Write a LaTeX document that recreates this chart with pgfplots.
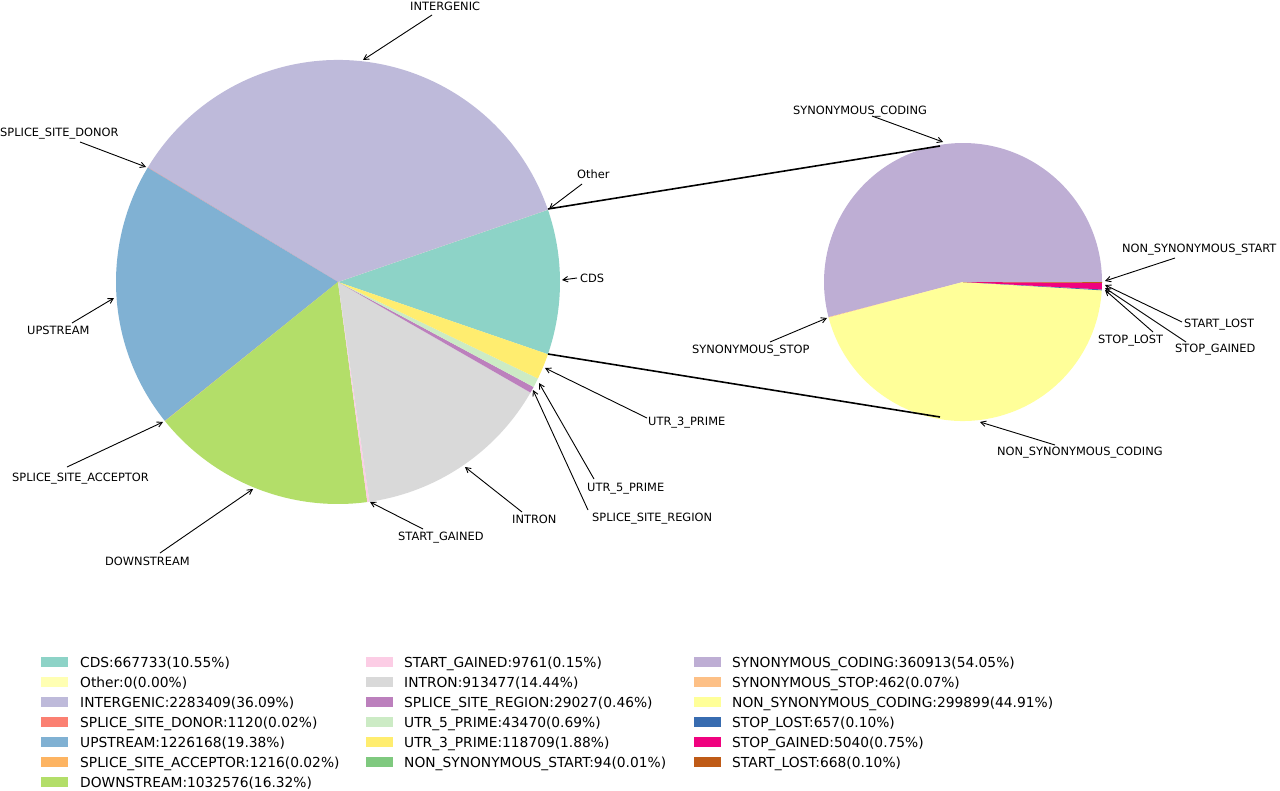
\documentclass[border=0pt]{standalone}
\usepackage{pgfplots}
\pgfplotsset{compat=1.18}
\usepackage{pgfplotstable}
\usepackage{fontspec}
\setmainfont{DejaVu Sans}
\usetikzlibrary{arrows.meta}

% Set3 (main pie) and Accent (detail pie) colours
\definecolor{cCDS}{HTML}{8DD3C7}
\definecolor{cOther}{HTML}{FFFFB3}
\definecolor{cINT}{HTML}{BEBADA}
\definecolor{cSSD}{HTML}{FB8072}
\definecolor{cUP}{HTML}{80B1D3}
\definecolor{cSSA}{HTML}{FDB462}
\definecolor{cDOWN}{HTML}{B3DE69}
\definecolor{cSG}{HTML}{FCCDE5}
\definecolor{cINTRON}{HTML}{D9D9D9}
\definecolor{cSSR}{HTML}{BC80BD}
\definecolor{cUFIVE}{HTML}{CCEBC5}
\definecolor{cUTHREE}{HTML}{FFED6F}
\definecolor{cNSS}{HTML}{7FC97F}
\definecolor{cSC}{HTML}{BEAED4}
\definecolor{cSS}{HTML}{FDC086}
\definecolor{cNSC}{HTML}{FFFF99}
\definecolor{cSL}{HTML}{386CB0}
\definecolor{cSGD}{HTML}{F0027F}
\definecolor{cSTL}{HTML}{BF5B17}

\pgfplotstableread{
name value col
CDS 667733 cCDS
Other 0 cOther
INTERGENIC 2283409 cINT
SPLICE-SITE-DONOR 1120 cSSD
UPSTREAM 1226168 cUP
SPLICE-SITE-ACCEPTOR 1216 cSSA
DOWNSTREAM 1032576 cDOWN
START-GAINED 9761 cSG
INTRON 913477 cINTRON
SPLICE-SITE-REGION 29027 cSSR
UTR-5-PRIME 43470 cUFIVE
UTR-3-PRIME 118709 cUTHREE
}\maindata

\pgfplotstableread{
name value col
NON-SYNONYMOUS-START 94 cNSS
SYNONYMOUS-CODING 360913 cSC
SYNONYMOUS-STOP 462 cSS
NON-SYNONYMOUS-CODING 299899 cNSC
STOP-LOST 657 cSL
STOP-GAINED 5040 cSGD
START-LOST 668 cSTL
}\cdsdata

\makeatletter
% #1 table, #2 cx, #3 cy, #4 radius, #5 start angle expression, #6 output macro name
\newcommand\makepie[6]{%
  \pgfplotstablegetrowsof{#1}\pgfmathtruncatemacro\pie@n{\pgfplotsretval-1}%
  \def\pie@tot{0}%
  \pgfplotsforeachungrouped \pie@i in {0,...,\pie@n}{%
    \pgfplotstablegetelem{\pie@i}{value}\of#1%
    \edef\pie@tot{\fpeval{\pie@tot+\pgfplotsretval}}}%
  \pgfplotstablegetelem{0}{value}\of#1\let\pie@first\pgfplotsretval
  \edef\pie@a{\fpeval{#5}}%
  \def\pie@out{}%
  \pgfplotsforeachungrouped \pie@i in {0,...,\pie@n}{%
    \pgfplotstablegetelem{\pie@i}{value}\of#1\let\pie@v\pgfplotsretval
    \pgfplotstablegetelem{\pie@i}{col}\of#1\let\pie@c\pgfplotsretval
    \edef\pie@b{\fpeval{\pie@a+360*\pie@v/\pie@tot}}%
    \edef\pie@out{\unexpanded\expandafter{\pie@out}%
      \noexpand\fill[\pie@c] (axis cs:#2,#3) -- ++(\pie@a:#4bp)
      arc[start angle=\pie@a,end angle=\pie@b,radius=#4bp] -- cycle;}%
    \let\pie@a\pie@b}%
  \expandafter\global\expandafter\let\csname #6\endcsname\pie@out
}
\makepie{\maindata}{338}{282}{222}{-180*\pie@first/\pie@tot}{mainpie}
\makepie{\cdsdata}{963}{282}{139}{0}{cdspie}
\makeatother

\newcommand\lblfont{\fontsize{11.4bp}{13.7bp}\selectfont}
\newcommand\legfont{\fontsize{13.8bp}{16.5bp}\selectfont}
% label: left x, centre y, text
\newcommand\lbl[3]{\node[anchor=base west,inner sep=0pt,font=\lblfont] at (axis cs:#1,#2+4.2) {#3};}
% arrow: from (x1,y1) to (x2,y2)
\newcommand\arr[4]{\draw[line width=0.9bp,-{Straight Barb[length=5bp,width=5.5bp]}] (axis cs:#1,#2) -- (axis cs:#3,#4);}
% legend entry: patch x, text x, row centre y, colour, text
\newcommand\leg[5]{\fill[#4] (axis cs:#1,#3-5) rectangle ++(27bp,-10bp);
  \node[anchor=base west,inner sep=0pt,font=\legfont] at (axis cs:#2,#3+5) {#5};}

\begin{document}
\begin{tikzpicture}
\begin{axis}[
  x=1bp, y=1bp, y dir=reverse,
  xmin=0, xmax=1280, ymin=0, ymax=791,
  hide axis, clip=false,
  anchor=south west, at={(0,0)},
]
\mainpie
\cdspie
% connection lines
\draw[line width=1.6bp] (axis cs:548,209) -- (axis cs:940,146);
\draw[line width=1.6bp] (axis cs:548,354) -- (axis cs:940,417);
% main pie labels
\arr{432}{15}{363}{60}\lbl{410}{6}{INTERGENIC}
\arr{80}{142}{146}{167}\lbl{0}{132}{SPLICE\_SITE\_DONOR}
\arr{582}{184}{549}{209}\lbl{577}{174}{Other}
\arr{577}{278}{562}{280}\lbl{580}{278}{CDS}
\arr{72}{323}{114}{298}\lbl{27}{330}{UPSTREAM}
\arr{67}{467}{163}{422}\lbl{12}{477}{SPLICE\_SITE\_ACCEPTOR}
\arr{160}{553}{253}{489}\lbl{105}{561}{DOWNSTREAM}
\arr{423}{529}{370}{502}\lbl{398}{536}{START\_GAINED}
\arr{522}{512}{465}{467}\lbl{512}{519}{INTRON}
\arr{647}{418}{545}{368}\lbl{648}{421}{UTR\_3\_PRIME}
\arr{594}{479}{539}{383}\lbl{587}{487}{UTR\_5\_PRIME}
\arr{588}{510}{533}{390}\lbl{592}{517}{SPLICE\_SITE\_REGION}
% detail pie labels
\arr{872}{116}{943}{142}\lbl{793}{110}{SYNONYMOUS\_CODING}
\arr{1175}{258}{1105}{281}\lbl{1122}{248}{NON\_SYNONYMOUS\_START}
\arr{1182}{322}{1105}{285}\lbl{1184}{323}{START\_LOST}
\arr{1186}{342}{1105}{288}\lbl{1175}{348}{STOP\_GAINED}
\arr{1153}{332}{1105}{290}\lbl{1098}{339}{STOP\_LOST}
\arr{770}{342}{827}{318}\lbl{692}{349}{SYNONYMOUS\_STOP}
\arr{1055}{445}{980}{422}\lbl{997}{451}{NON\_SYNONYMOUS\_CODING}
% legend
\leg{41}{80}{662}{cCDS}{CDS:667733(10.55\%)}
\leg{41}{80}{682}{cOther}{Other:0(0.00\%)}
\leg{41}{80}{702}{cINT}{INTERGENIC:2283409(36.09\%)}
\leg{41}{80}{722}{cSSD}{SPLICE\_SITE\_DONOR:1120(0.02\%)}
\leg{41}{80}{742}{cUP}{UPSTREAM:1226168(19.38\%)}
\leg{41}{80}{762}{cSSA}{SPLICE\_SITE\_ACCEPTOR:1216(0.02\%)}
\leg{41}{80}{782}{cDOWN}{DOWNSTREAM:1032576(16.32\%)}
\leg{366}{404}{662}{cSG}{START\_GAINED:9761(0.15\%)}
\leg{366}{404}{682}{cINTRON}{INTRON:913477(14.44\%)}
\leg{366}{404}{702}{cSSR}{SPLICE\_SITE\_REGION:29027(0.46\%)}
\leg{366}{404}{722}{cUFIVE}{UTR\_5\_PRIME:43470(0.69\%)}
\leg{366}{404}{742}{cUTHREE}{UTR\_3\_PRIME:118709(1.88\%)}
\leg{366}{404}{762}{cNSS}{NON\_SYNONYMOUS\_START:94(0.01\%)}
\leg{694}{732}{662}{cSC}{SYNONYMOUS\_CODING:360913(54.05\%)}
\leg{694}{732}{682}{cSS}{SYNONYMOUS\_STOP:462(0.07\%)}
\leg{694}{732}{702}{cNSC}{NON\_SYNONYMOUS\_CODING:299899(44.91\%)}
\leg{694}{732}{722}{cSL}{STOP\_LOST:657(0.10\%)}
\leg{694}{732}{742}{cSGD}{STOP\_GAINED:5040(0.75\%)}
\leg{694}{732}{762}{cSTL}{START\_LOST:668(0.10\%)}
\end{axis}
\pgfresetboundingbox
\useasboundingbox (current axis.south west) rectangle (current axis.north east);
\end{tikzpicture}
\end{document}
